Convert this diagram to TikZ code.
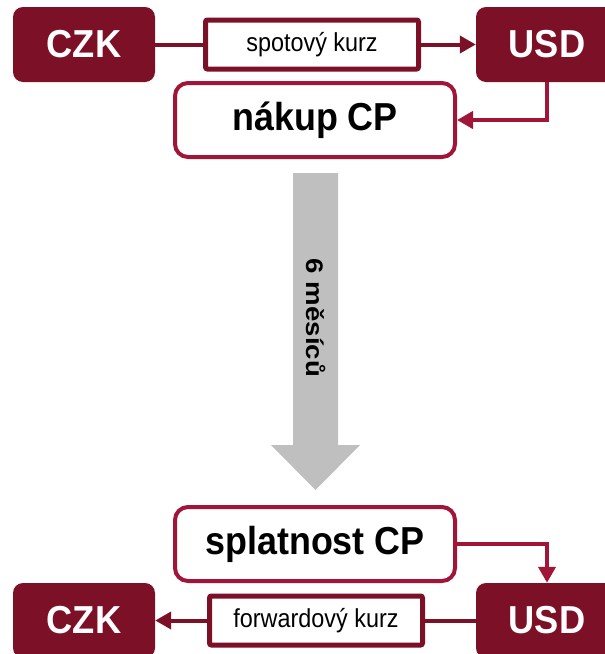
\documentclass[tikz,border=0pt]{standalone}
\usepackage{fontspec}
\setmainfont{Liberation Sans}
\newfontfamily\curfont[FakeStretch=0.93]{Liberation Sans}
\newfontfamily\ratefont[FakeStretch=0.9]{Liberation Sans}
\newfontfamily\dealfont[FakeStretch=0.92]{Liberation Sans}
\newfontfamily\spanfont[FakeStretch=1.15]{Liberation Sans}
\usetikzlibrary{arrows.meta}

\definecolor{wine}{HTML}{7B1027}
\definecolor{crimson}{HTML}{A01538}
\definecolor{shaft}{HTML}{BFBFBF}

\begin{document}
\begin{tikzpicture}[x=1pt,y=-1pt,>={Triangle[length=16pt,width=17pt]},
	cur/.style={fill=wine,rounded corners=10pt,minimum width=142pt,
		minimum height=75pt,text=white,
		font=\curfont\fontsize{39}{41}\selectfont\bfseries},
	rate/.style={draw=wine,line width=5pt,fill=white,inner sep=0pt,
		rounded corners=2pt,minimum width=213pt,minimum height=49pt,
		font=\ratefont\fontsize{26}{28}\selectfont},
	deal/.style={draw=crimson,line width=4pt,fill=white,inner sep=0pt,
		rounded corners=13pt,minimum width=280pt,minimum height=74pt,
		font=\dealfont\fontsize{39}{41}\selectfont\bfseries},
	flow/.style={line width=4pt}]

\useasboundingbox (0,0) rectangle (605,654);
\clip (0,0) rectangle (605,654);

% purchase
\node[cur] (czk1) at (84,44.5) {CZK};
\node[cur] (usd1) at (547,44.5) {USD};
\node[rate] (spot) at (312,44.5) {spotový kurz};
\node[deal] (buy) at (315,120) {nákup CP};

\draw[flow,wine] (czk1.east) -- (spot.west);
\draw[flow,wine,->] (spot.east) -- (usd1.west);
\draw[flow,crimson,->] (usd1.south) |- (buy.east);

% holding period
\fill[color=shaft] (293,173)--(338,173)--(338,445)--(360,445)--(315.5,490)
	--(271,445)--(293,445)--cycle;
\node[rotate=-90,font=\spanfont\fontsize{24}{26}\selectfont\bfseries]
	(span) at (316,318) {6 měsíců};

% maturity
\node[deal] (mat) at (315,544) {splatnost CP};
\node[cur] (czk2) at (84,620.5) {CZK};
\node[cur] (usd2) at (547,620.5) {USD};
\node[rate] (fwd) at (316,620.5) {forwardový kurz};

\draw[flow,crimson,->] (mat.east) -| (usd2.north);
\draw[flow,wine] (usd2.west) -- (fwd.east);
\draw[flow,wine,->] (fwd.west) -- (czk2.east);

\end{tikzpicture}
\end{document}
